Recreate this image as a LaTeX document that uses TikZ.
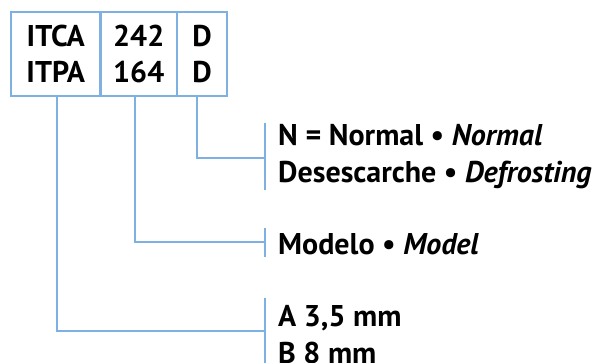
\documentclass[tikz,border=0pt]{standalone}
\usepackage{fontspec}
\setmainfont{PT Sans}
\begin{document}
\begin{tikzpicture}[x=1pt,y=-1pt,
  line/.style={draw=lineblue,line width=2.6pt},
  cell/.style={draw=lineblue,line width=2.6pt,minimum height=84pt,inner sep=0pt,align=center,font=\fontsize{30}{36}\selectfont\bfseries},
  lbl/.style={anchor=west,align=left,inner sep=0pt,font=\fontsize{30}{37}\selectfont\bfseries}]
\definecolor{lineblue}{HTML}{7FB0E2}
\useasboundingbox (0,0) rectangle (612,363);
\node[cell,minimum width=89.5pt] (c1) at (55.75,54) {ITCA\\ITPA};
\node[cell,minimum width=76.5pt] (c2) at (138.75,54) {242\\164};
\node[cell,minimum width=50pt] (c3) at (202,54) {D\\D};
\node[lbl] (t1) at (278,156.5) {N = Normal • \textit{Normal}\\Desescarche • \textit{Defrosting}};
\node[lbl] (t2) at (278,244) {Modelo • \textit{Model}};
\node[lbl] (t3) at (278,335) {A 3,5 mm\\B 8 mm};
% brackets
\coordinate (b1) at (265,158);
\coordinate (b2) at (265,242);
\coordinate (b3) at (265,331);
\draw[line] (265,123) -- (265,190);
\draw[line] (265,228) -- (265,257);
\draw[line] (265,298) -- (265,365);
% connectors
\draw[line] (c3.south -| 197,0) |- (b1);
\draw[line] (c2.south -| 135,0) |- (b2);
\draw[line] (c1.south -| 57,0) |- (b3);
\end{tikzpicture}
\end{document}
